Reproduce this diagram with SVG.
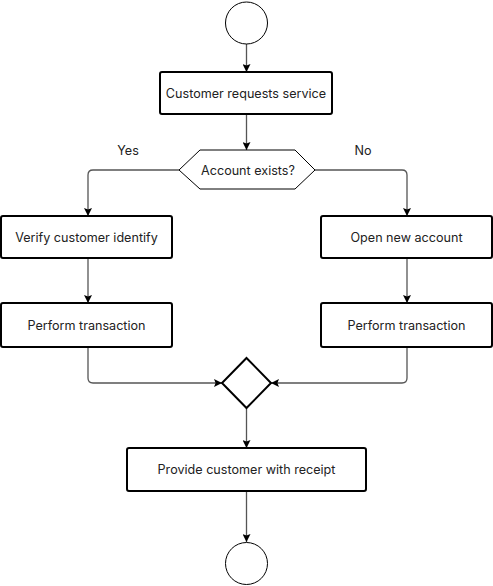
<svg xmlns="http://www.w3.org/2000/svg" width="493" height="586" viewBox="0 0 493 586">
<defs>
<marker id="arr" viewBox="0 0 10 10" refX="10" refY="5" markerWidth="8" markerHeight="8" markerUnits="userSpaceOnUse" orient="auto">
<path d="M0,0 L10,5 L0,10 L2,5 z" fill="#000"/>
</marker>
<style>
.box{fill:#fff;stroke:#000;stroke-width:2}
.thin{fill:#fff;stroke:#000;stroke-width:1}
.t{font-family:Inter,"Open Sans",sans-serif;font-size:12.6px;fill:#222;text-anchor:middle;dominant-baseline:central}
.c{fill:none;stroke:#555;stroke-width:1.3;marker-end:url(#arr)}
</style>
</defs>
<rect width="493" height="586" fill="#fff"/>
<g id="connectors">
<path class="c" d="M246.5,44 V72"/>
<path class="c" d="M246.5,114 V150"/>
<path class="c" d="M179,170 H93 Q88,170 88,175 V216"/>
<path class="c" d="M315,170 H402 Q407,170 407,175 V216"/>
<path class="c" d="M88,258 V303"/>
<path class="c" d="M407,258 V303"/>
<path class="c" d="M88,347 V378 Q88,383 93,383 H222"/>
<path class="c" d="M407,347 V378 Q407,383 402,383 H271"/>
<path class="c" d="M246.5,408 V448"/>
<path class="c" d="M246.5,491 V542"/>
<text class="t" x="128" y="150">Yes</text>
<text class="t" x="363" y="150">No</text>
</g>
<g id="start"><circle class="thin" cx="246.5" cy="23" r="21"/></g>
<g id="request"><rect class="box" x="160" y="72" width="172" height="42" rx="2"/><text class="t" x="246" y="93">Customer requests service</text></g>
<g id="decision"><polygon class="thin" points="179,170 200,150 295,150 315,170 295,189 200,189"/><text class="t" x="248" y="170">Account exists?</text></g>
<g id="verify"><rect class="box" x="1" y="216" width="171" height="42" rx="2"/><text class="t" x="86.5" y="237">Verify customer identify</text></g>
<g id="open"><rect class="box" x="321" y="216" width="171" height="42" rx="2"/><text class="t" x="406.5" y="237">Open new account</text></g>
<g id="perform1"><rect class="box" x="1" y="303" width="171" height="44" rx="2"/><text class="t" x="86.5" y="325">Perform transaction</text></g>
<g id="perform2"><rect class="box" x="321" y="303" width="171" height="44" rx="2"/><text class="t" x="406.5" y="325">Perform transaction</text></g>
<g id="merge"><polygon class="box" points="246.5,358 271,383 246.5,408 222,383"/></g>
<g id="receipt"><rect class="box" x="127" y="448" width="239" height="43" rx="2"/><text class="t" x="246.5" y="469">Provide customer with receipt</text></g>
<g id="end"><circle class="thin" cx="246.5" cy="563.5" r="21"/></g>
</svg>
